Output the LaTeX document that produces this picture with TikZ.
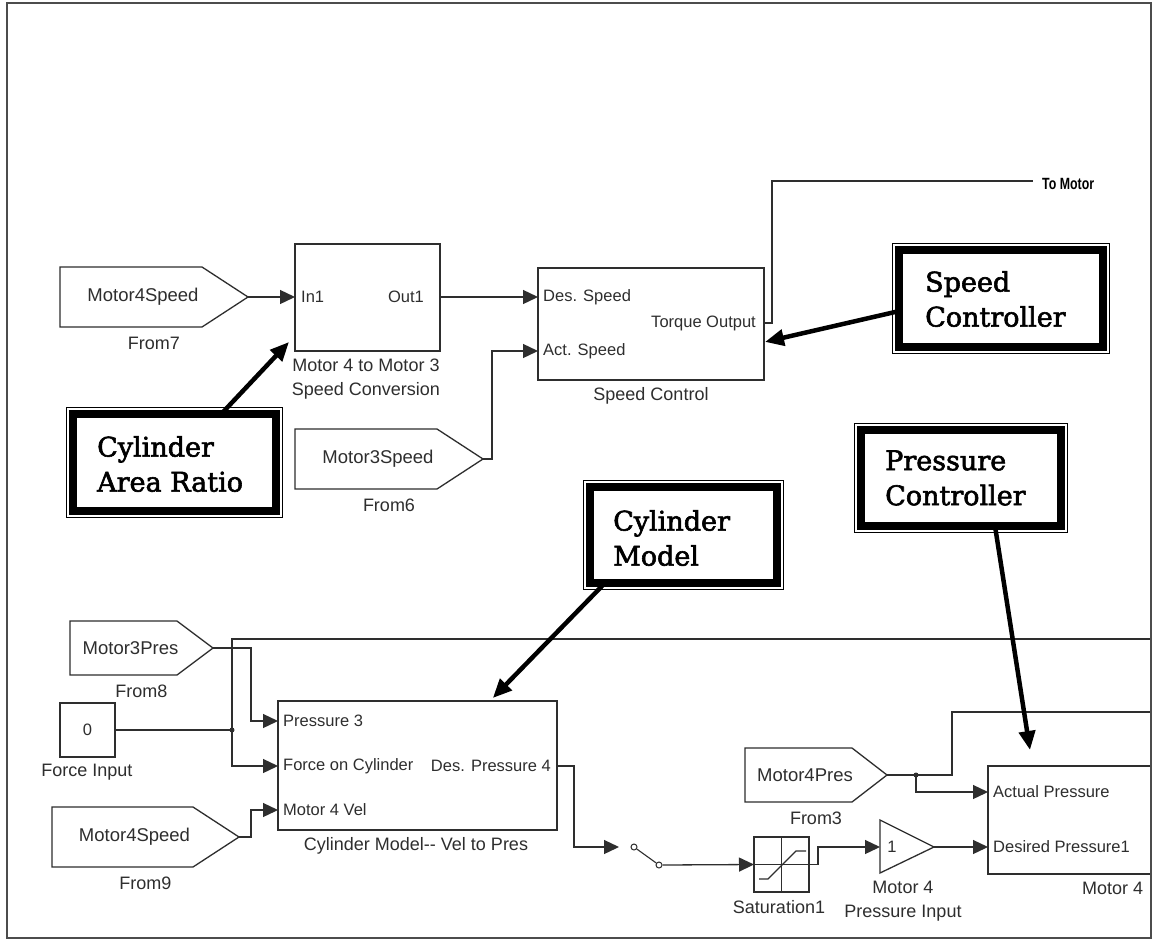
\documentclass[tikz,border=0pt]{standalone}
\usepackage{fontspec}
\setmainfont{Liberation Sans}
\newfontfamily\notefont[FakeBold=2.2]{DejaVu Serif}
\usetikzlibrary{arrows.meta,calc}

\definecolor{wire}{HTML}{2E2E2E}

\tikzset{
  wire/.style={draw=wire, line width=1.3pt},
  sig/.style={wire, -{Triangle[length=15pt,width=14pt]}},
  blk/.style={draw=wire, line width=1.3pt, fill=white, inner sep=0pt, outer sep=0pt},
  port/.style={font=\fontsize{16.5}{16.5}\selectfont, text=wire, inner sep=0pt},
  tagtext/.style={font=\fontsize{18.5}{18.5}\selectfont, text=wire, inner sep=0pt},
  blkname/.style={font=\fontsize{18}{24}\selectfont, text=wire, inner sep=0pt, align=center},
  notebox/.style={draw=black, line width=7.5pt, fill=white, inner sep=0pt, outer sep=0pt},
  noteframe/.style={draw=black, line width=1.2pt},
  notetext/.style={font=\notefont\fontsize{27}{35}\selectfont, align=left, inner sep=0pt, anchor=west},
  callout/.style={line width=4.5pt, -{Triangle[length=19pt,width=16pt]}},
  junction/.style={circle, fill=wire, inner sep=0pt, minimum size=5pt},
  contact/.style={circle, draw=wire, line width=1pt, fill=white, inner sep=0pt, minimum size=6pt},
  border/.style={draw=black!70, line width=1.6pt},
}

% From/Goto tag: name, left x, body right x, tip x, centre y, half height, text, caption
\newcommand{\tagblock}[8]{%
  \draw[blk] (#2,{#5-#6}) -- (#3,{#5-#6}) -- (#4,#5) -- (#3,{#5+#6}) -- (#2,{#5+#6}) -- cycle;
  \coordinate (#1) at (#4,#5);
  \node[tagtext] (#1-txt) at ({(#2+#4)/2-11},#5) {#7};
  \node[blkname] (#1-name) at ({(#2+#4)/2},{#5+#6+16}) {#8};
}

% Callout box with thick band and thin outer rule: name, left, top, right, bottom
\newcommand{\callbox}[5]{%
  \node[notebox, minimum width={#4pt-#2pt-14pt}, minimum height={#5pt-#3pt-14pt}]
    (#1) at ({(#2+#4)/2},{(#3+#5)/2}) {};
  \draw[noteframe] ({#2+0.6},{#3+0.6}) rectangle ({#4-0.6},{#5-0.6});
}

\begin{document}
\begin{tikzpicture}[x=1pt, y=-1pt]
\useasboundingbox (0,0) rectangle (1152,940);
\fill[white] (0,0) rectangle (1152,940);

\begin{scope}
\clip (7,3) rectangle (1151,938);

% ---------- speed loop ----------
\tagblock{f7}{60}{202}{248}{297}{30}{Motor4Speed}{From7}
\tagblock{f6}{295}{437}{483}{459}{30}{Motor3Speed}{From6}

\node[blk, minimum width=145pt, minimum height=107pt] (conv) at (367.5,297.5) {};
\node[port, anchor=west] (conv-in1) at (301,297) {In1};
\node[port, anchor=east] (conv-out1) at (424,297) {Out1};
\node[blkname] (conv-name) at (366,379) {Motor 4 to Motor 3\\Speed Conversion};

\node[blk, minimum width=226pt, minimum height=112pt] (sc) at (651,324) {};
\node[port, anchor=west] (sc-des) at (543,297) {Des. Speed};
\node[port, anchor=west] (sc-act) at (543,351) {Act. Speed};
\node[port, anchor=east] (sc-trq) at (756,323) {Torque Output};
\node[blkname] (sc-name) at (651,396) {Speed Control};

\node[anchor=west, inner sep=0pt, text=black] (tomotor) at (1042,184)
  {\scalebox{0.95}[1.25]{\fontsize{13}{13}\selectfont\bfseries To Motor}};

\draw[sig] (f7) -- (conv.west |- f7);
\draw[sig] (conv.east |- 0,297) -- (sc.west |- 0,297);
\draw[sig] (f6) -| (492,351) -- (sc.west |- 0,351);
\draw[wire] (sc.east |- 0,323) -- (772,323) |- ([xshift=-9pt]tomotor.west |- 0,181);

% ---------- cylinder model ----------
\tagblock{f8}{70}{177}{213}{648}{27}{Motor3Pres}{From8}
\tagblock{f9}{52}{193}{239}{837}{30}{Motor4Speed}{From9}

\node[blk, minimum width=55pt, minimum height=54pt] (zero) at (87.5,730)
  {\fontsize{16.5}{16.5}\selectfont\color{wire}0};
\node[blkname] (zero-name) at (87,772) {Force Input};

\node[blk, minimum width=279pt, minimum height=129pt] (cm) at (417.5,765.5) {};
\node[port, anchor=west] (cm-p3) at (283,721) {Pressure 3};
\node[port, anchor=west] (cm-f) at (283,766) {Force on Cylinder};
\node[port, anchor=west] (cm-v) at (283,810) {Motor 4 Vel};
\node[port, anchor=east] (cm-out) at (551,766) {Des. Pressure 4};
\node[blkname] (cm-name) at (416,846) {Cylinder Model-{}- Vel to Pres};

\coordinate (j1) at (232,730);
\coordinate (busA) at (1160,639);
\draw[sig] (f8) -| (251,721) -- (cm.west |- 0,721);
\draw[wire] (zero.east) -- (j1);
\draw[sig] (busA) -| (232,766) -- (cm.west |- 0,766);
\node[junction] (j1dot) at (j1) {};
\draw[sig] (f9) -| (251,810) -- (cm.west |- 0,810);

% ---------- manual switch, saturation, gain ----------
\coordinate (sw-in) at (619,847);
\node[contact] (swa) at (634,847) {};
\node[contact] (swb) at (659,865) {};
\draw[sig] (cm.east |- 0,766) -| (574,847) -- (sw-in);
\draw[wire, line width=1.1pt] (swa) -- (swb);

\node[blk, minimum width=55pt, minimum height=55pt] (sat) at (781.5,864.5) {};
\draw[wire, line width=1.1pt] (sat.north) -- (sat.south) (sat.west) -- (sat.east);
\draw[wire, line width=1.1pt] (759,879) -- (768,879) -- (796,851) -- (806,851);
\node[blkname] (sat-name) at (779,907) {Saturation1};
\draw[sig] (swb.east) -- (sat.west);

\coordinate (gain-in) at (880,847);
\coordinate (gain-out) at (934,847);
\draw[blk] (880,820) -- (gain-out) -- (880,873) -- cycle;
\node[port] (gain-k) at (892,847) {1};
\node[blkname] (gain-name) at (903,901) {Motor 4\\Pressure Input};
\draw[sig] (sat.east) -- (818,864.5) |- (gain-in);

% ---------- pressure controller ----------
\tagblock{f3}{745}{852}{887}{775}{27}{Motor4Pres}{From3}

\node[blk, minimum width=200pt, minimum height=108pt, anchor=north west] (m4) at (988,766) {};
\node[port, anchor=west] (m4-act) at (993,792) {Actual Pressure};
\node[port, anchor=west] (m4-des) at (993,847) {Desired Pressure1};
\node[blkname, anchor=west] (m4-name) at (1082,888) {Motor 4};

\coordinate (j2) at (916,775);
\coordinate (busB) at (1160,712);
\draw[wire] (f3) -- (j2) -| (952,712) -- (busB);
\draw[sig] (j2) |- (m4.west |- 0,792);
\node[junction] (j2dot) at (j2) {};
\draw[sig] (gain-out) -- (m4.west |- gain-out);

% ---------- callouts ----------
\callbox{ar}{66}{407}{283}{518}
\node[notetext] (ar-t) at (97,464) {Cylinder\\Area Ratio};
\draw[callout] ($(ar.north west)!0.73!(ar.north east)$) -- ([shift={(-6,-9)}]conv.south west);

\callbox{spc}{892}{243}{1110}{354}
\node[notetext] (spc-t) at (925,299) {Speed\\Controller};
\draw[callout] ($(spc.north west)!0.63!(spc.south west)$) -- ([xshift=1pt]$(sc.north east)!0.66!(sc.south east)$);

\callbox{cyl}{583}{480}{784}{590}
\node[notetext] (cyl-t) at (613,538) {Cylinder\\Model};
\draw[callout] ($(cyl.south west)!0.08!(cyl.south east)$) -- ([yshift=3pt]$(cm.north west)!0.77!(cm.north east)$);

\callbox{pc}{854}{423}{1068}{533}
\node[notetext] (pc-t) at (885,478) {Pressure\\Controller};
\draw[callout] ($(pc.south west)!0.67!(pc.south east)$) -- ([shift={(42,-16)}]m4.north west);

\end{scope}

% outer frame
\draw[border] (7,3) rectangle (1151,938);
\end{tikzpicture}
\end{document}
